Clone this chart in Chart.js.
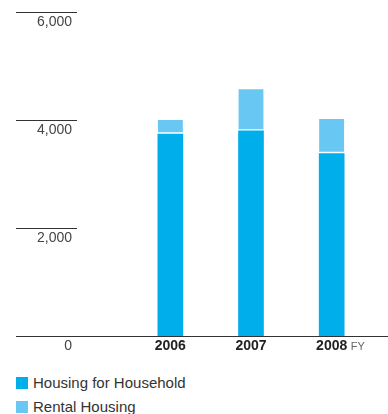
<!DOCTYPE html>
<html>
<head>
<meta charset="utf-8">
<script src="https://cdn.jsdelivr.net/npm/chart.js@4.4.0/dist/chart.umd.min.js"></script>
<style>
  body { margin: 0; background: #fff; font-family: "Liberation Sans", Arial, sans-serif; }
  #wrap { position: relative; width: 388px; height: 414px; }
  #legend { position: absolute; left: 16px; top: 371px; font-size: 15px; line-height: 24px; color: #333; }
  #legend span.box { display: inline-block; width: 12px; height: 12px; margin-right: 5px; vertical-align: -1px; }
</style>
</head>
<body>
<div id="wrap">
  <canvas id="chart" width="388" height="360"></canvas>
  <div id="legend"></div>
</div>
<script>
const years = ['2006', '2007', '2008']
const household = [3740, 3800, 3380]
const rental = [260, 770, 640]
const yTicks = [0, 2000, 4000, 6000]

const householdColor = '#00aeeb'
const rentalColor = '#69c8f3'

// short left rules + labels hanging under them, long baseline, "FY" tag
let axisDecor = {
  id: 'axisDecor',
  afterDraw(chart) {
    let ctx = chart.ctx
    let y = chart.scales.y
    let x = chart.scales.x
    ctx.save()
    ctx.strokeStyle = '#333'
    ctx.lineWidth = 1
    ctx.font = '14px "Liberation Sans", Arial, sans-serif'
    ctx.fillStyle = '#444'
    ctx.textAlign = 'right'
    ctx.textBaseline = 'middle'
    yTicks.forEach(v => {
      let py = Math.round(y.getPixelForValue(v)) + 0.5
      ctx.beginPath()
      ctx.moveTo(16, py)
      ctx.lineTo(v == 0 ? 388 : 77, py)
      ctx.stroke()
      ctx.fillText(v.toLocaleString('en-US'), 72, py + 10)
    })
    ctx.font = '11px "Liberation Sans", Arial, sans-serif'
    ctx.fillStyle = '#666'
    ctx.textAlign = 'left'
    ctx.fillText('FY', x.getPixelForValue(years.length - 1) + 19, y.getPixelForValue(0) + 10.5)
    ctx.restore()
  }
}

new Chart(document.getElementById('chart'), {
  type: 'bar',
  data: {
    labels: years,
    datasets: [{
      label: 'Housing for Household',
      data: household,
      backgroundColor: householdColor,
      borderWidth: 0,
      barThickness: 25
    }, {
      label: 'Rental Housing',
      data: rental,
      backgroundColor: rentalColor,
      borderColor: ['#ffffff', 'rgba(255,255,255,0.55)', 'rgba(255,255,255,0.55)'],
      borderWidth: { top: 0, left: 0, right: 0, bottom: 2 },
      borderSkipped: false,
      barThickness: 25
    }]
  },
  options: {
    responsive: false,
    animation: false,
    layout: { padding: { left: 130, right: 16, top: 12, bottom: 0 } },
    plugins: {
      legend: { display: false },
      tooltip: { enabled: false }
    },
    scales: {
      x: {
        stacked: true,
        grid: { display: false, drawTicks: false },
        border: { display: false },
        ticks: {
          padding: 2,
          color: '#222',
          font: { family: '"Liberation Sans", Arial, sans-serif', size: 14, weight: 'bold' }
        },
        afterFit: scale => { scale.height = 24 }
      },
      y: {
        stacked: true,
        display: false,
        min: 0,
        max: 6000,
        ticks: { stepSize: 2000 }
      }
    }
  },
  plugins: [axisDecor]
})

let legend = document.getElementById('legend')
;[['Housing for Household', householdColor], ['Rental Housing', rentalColor]].forEach(([name, color]) => {
  legend.innerHTML += `<div><span class="box" style="background:${ color }"></span>${ name }</div>`
})
</script>
</body>
</html>
